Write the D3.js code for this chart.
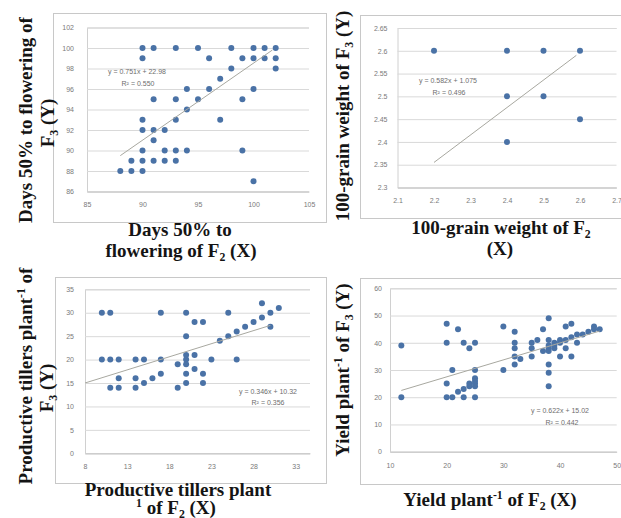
<!DOCTYPE html>
<html>
<head>
<meta charset="utf-8">
<script src="https://cdn.jsdelivr.net/npm/d3@7"></script>
<style>
  body { margin: 0; background: #fff; }
  svg { display: block; }
</style>
</head>
<body>
<div id="chart"></div>
<script>
// ---------- data ----------
// Days to 50% flowering, F2 (x) vs F3 (y)
var flowerF2 = [90,91,93,95,98,100,101,102, 90,96,99,100,101,102, 98,102, 97, 94,96,100,
                91,93,95,99, 94, 90,93,97, 90,91,92, 91, 90,92,93,94,99, 89,90,91,92,93, 88,89,90, 100];
var flowerF3 = [100,100,100,100,100,100,100,100, 99,99,99,99,99,99, 98,98, 97, 96,96,96,
                95,95,95,95, 94, 93,93,93, 92,92,92, 91, 90,90,90,90,90, 89,89,89,89,89, 88,88,88, 87];
var flowerTrend = [[88, 89.5], [101.7, 99.8]];
var flowerEq = ["y = 0.751x + 22.98", "R\u00b2 = 0.550"];
var flowerXTicks = [85, 90, 95, 100, 105];
var flowerYTicks = [86, 88, 90, 92, 94, 96, 98, 100, 102];

// 100-grain weight
var grainF2 = [2.2, 2.4, 2.5, 2.6, 2.4, 2.5, 2.6, 2.4];
var grainF3 = [2.6, 2.6, 2.6, 2.6, 2.5, 2.5, 2.45, 2.4];
var grainTrend = [[2.2, 2.355], [2.59, 2.59]];
var grainEq = ["y = 0.582x + 1.075", "R\u00b2 = 0.496"];
var grainXTicks = [2.1, 2.2, 2.3, 2.4, 2.5, 2.6, 2.7];
var grainYTicks = [2.3, 2.35, 2.4, 2.45, 2.5, 2.55, 2.6, 2.65];

// Productive tillers per plant
var tillerF2 = [10,11,17,20,25, 29,31,30,29,28,27,26,25,24,30, 21,22, 20, 20,21,
                10,11,12,14,15,17,20,23,26, 19,20, 21, 17,20,22, 12,14,16, 15,20,22, 11,12,14,19];
var tillerF3 = [30,30,30,30,30, 32,31,30,29,28,27,26,25,24,27, 28,28, 25, 21,21,
                20,20,20,20,20,20,20,20,20, 19,19, 18, 17,17,17, 16,16,16, 15,15,15, 14,14,14,14];
var tillerTrend = [[8, 15], [30, 27.3]];
var tillerEq = ["y = 0.346x + 10.32", "R\u00b2 = 0.356"];
var tillerXTicks = [8, 13, 18, 23, 28, 33];
var tillerYTicks = [0, 5, 10, 15, 20, 25, 30, 35];

// Yield per plant
var yieldF2 = [12,12, 20,20,20,20, 21,21, 22,22, 23,23,23, 24,24,24, 25,25,25,25,25,25,25,
               30,30, 32,32,32,32,32, 33, 35,35,35, 36, 37,37, 38,38,38,38,38,38,38,38,
               39,39,39, 40,40,40, 41,41,41, 42,42,42, 43,43, 44, 45, 46,46, 47];
var yieldF3 = [39,20, 47,40,25,20, 30,20, 45,22, 40,23,20, 38,24,25, 40,30,27,26,25,24,20,
               46,30, 44,40,38,35,32, 34, 40,38,35, 41, 45,37, 49,41,39,38,37,32,29,24,
               40,39,38, 41,40,35, 46,41,38, 47,42,35, 43,40, 43, 44, 46,45, 45];
var yieldTrend = [[12, 22.5], [47, 44.3]];
var yieldEq = ["y = 0.622x + 15.02", "R\u00b2 = 0.442"];
var yieldXTicks = [10, 20, 30, 40, 50];
var yieldYTicks = [0, 10, 20, 30, 40, 50, 60];

// ---------- drawing ----------
var svg = d3.select("#chart")
  .append("svg")
    .attr("width", 621)
    .attr("height", 518);

var dotColor = "#4a72a6";
var titleFont = "'Liberation Serif', 'Times New Roman', serif";
var smallFont = "'Liberation Sans', Arial, sans-serif";

// writes text with ^{sup} and _{sub} parts as tspans
function richText(sel, str, size) {
  var parts = str.split(/(\^\{[^}]*\}|_\{[^}]*\})/);
  var shift = 0;
  parts.forEach(function(s) {
    if (!s) return;
    var dy = 0, fs = size;
    if (s[0] === "^") { dy = -size * 0.38; fs = size * 0.62; s = s.slice(2, -1); }
    else if (s[0] === "_") { dy = size * 0.22; fs = size * 0.62; s = s.slice(2, -1); }
    sel.append("tspan")
      .attr("dy", dy - shift)
      .style("font-size", fs + "px")
      .text(s);
    shift = dy;
  });
}

function drawPanel(p) {
  var g = svg.append("g");

  // chart frame
  g.append("rect")
    .attr("x", p.frame[0]).attr("y", p.frame[1])
    .attr("width", p.frame[2]).attr("height", p.frame[3])
    .attr("fill", "none")
    .attr("stroke", "#c8c8c8");

  var x = d3.scaleLinear().domain(p.xDomain).range([p.left, p.right]);
  var y = d3.scaleLinear().domain(p.yDomain).range([p.bottom, p.top]);

  // horizontal gridlines + y labels
  var yAxis = g.append("g")
    .attr("transform", "translate(" + p.left + ",0)")
    .call(d3.axisLeft(y)
      .tickValues(p.yTicks)
      .tickSize(-(p.right - p.left))
      .tickPadding(p.yPad)
      .tickFormat(function(d) { return d; }));
  yAxis.select(".domain").attr("stroke", "#d0d0d0");
  yAxis.selectAll(".tick line").attr("stroke", "#d9d9d9");
  yAxis.selectAll("text")
    .attr("fill", "#7a7a7a")
    .style("font-family", smallFont)
    .style("font-size", "7px");

  // x axis
  var xAxis = g.append("g")
    .attr("transform", "translate(0," + p.bottom + ")")
    .call(d3.axisBottom(x)
      .tickValues(p.xTicks)
      .tickSize(0)
      .tickPadding(11)
      .tickFormat(function(d) { return d; }));
  xAxis.select(".domain").attr("stroke", "#c8c8c8");
  xAxis.selectAll("text")
    .attr("fill", "#7a7a7a")
    .style("font-family", smallFont)
    .style("font-size", "7px");

  // points
  g.selectAll("circle.pt")
    .data(p.xs.map(function(v, i) { return [v, p.ys[i]]; }))
    .enter().append("circle")
      .attr("class", "pt")
      .attr("cx", function(d) { return x(d[0]); })
      .attr("cy", function(d) { return y(d[1]); })
      .attr("r", 3)
      .attr("fill", dotColor);

  // trend line
  g.append("path")
    .datum(p.trend)
    .attr("fill", "none")
    .attr("stroke", "#a8a8a0")
    .attr("stroke-width", 1)
    .attr("d", d3.line()
      .x(function(d) { return x(d[0]); })
      .y(function(d) { return y(d[1]); }));

  // equation + R2
  p.eq.forEach(function(t, i) {
    g.append("text")
      .attr("x", p.eqPos[i][0]).attr("y", p.eqPos[i][1])
      .attr("text-anchor", "middle")
      .attr("fill", "#6e6e6e")
      .style("font-family", smallFont)
      .style("font-size", "7px")
      .text(t);
  });

  // axis titles
  p.xTitle.forEach(function(t) {
    var el = g.append("text")
      .attr("x", t.x).attr("y", t.y)
      .attr("text-anchor", "middle")
      .attr("fill", "#141414")
      .style("font-family", titleFont)
      .style("font-weight", "bold")
      .style("font-size", "19px");
    richText(el, t.s, 19);
  });
  p.yTitle.forEach(function(t) {
    var el = g.append("text")
      .attr("transform", "translate(" + t.x + "," + t.y + ") rotate(-90)")
      .attr("text-anchor", "middle")
      .attr("fill", "#141414")
      .style("font-family", titleFont)
      .style("font-weight", "bold")
      .style("font-size", "19px");
    richText(el, t.s, 19);
  });
}

var panels = [
  {
    xs: flowerF2, ys: flowerF3, trend: flowerTrend, eq: flowerEq,
    xTicks: flowerXTicks, yTicks: flowerYTicks,
    xDomain: [85, 105], yDomain: [86, 102],
    left: 87, right: 309, top: 27.5, bottom: 191.5, yPad: 13,
    frame: [53.5, 13.5, 273, 209],
    eqPos: [[137, 74], [138, 86]],
    xTitle: [{ s: "Days 50% to", x: 180, y: 236 },
             { s: "flowering of F_{2} (X)", x: 181, y: 257 }],
    yTitle: [{ s: "Days 50% to flowering of", x: 32, y: 120 },
             { s: "F_{3} (Y)", x: 54, y: 123 }]
  },
  {
    xs: grainF2, ys: grainF3, trend: grainTrend, eq: grainEq,
    xTicks: grainXTicks, yTicks: grainYTicks,
    xDomain: [2.1, 2.7], yDomain: [2.3, 2.65],
    left: 397.5, right: 616.5, top: 28, bottom: 187.5, yPad: 10,
    frame: [360.5, 15.5, 262, 203],
    eqPos: [[448, 83], [449, 95]],
    xTitle: [{ s: "100-grain weight of F_{2}", x: 501, y: 234 },
             { s: "(X)", x: 500, y: 255 }],
    yTitle: [{ s: "100-grain weight of F_{3} (Y)", x: 349, y: 116 }]
  },
  {
    xs: tillerF2, ys: tillerF3, trend: tillerTrend, eq: tillerEq,
    xTicks: tillerXTicks, yTicks: tillerYTicks,
    xDomain: [8, 34.7], yDomain: [0, 35],
    left: 85, right: 310, top: 289.3, bottom: 453.3, yPad: 11,
    frame: [55.5, 277.5, 271, 206],
    eqPos: [[268, 394], [268, 405]],
    xTitle: [{ s: "Productive tillers plant", x: 178, y: 496 },
             { s: "^{1} of  F_{2} (X)", x: 176, y: 514 }],
    yTitle: [{ s: "Productive tillers plant^{-1} of", x: 32, y: 376 },
             { s: "F_{3} (Y)", x: 53, y: 388 }]
  },
  {
    xs: yieldF2, ys: yieldF3, trend: yieldTrend, eq: yieldEq,
    xTicks: yieldXTicks, yTicks: yieldYTicks,
    xDomain: [10, 50], yDomain: [0, 60],
    left: 390, right: 616.7, top: 288.3, bottom: 451.7, yPad: 8,
    frame: [360.5, 278.5, 262, 206],
    eqPos: [[560, 413], [562, 425]],
    xTitle: [{ s: "Yield plant^{-1} of F_{2} (X)", x: 490, y: 506 }],
    yTitle: [{ s: "Yield plant^{-1} of F_{3} (Y)", x: 349, y: 370 }]
  }
];

panels.forEach(drawPanel);
</script>
</body>
</html>
